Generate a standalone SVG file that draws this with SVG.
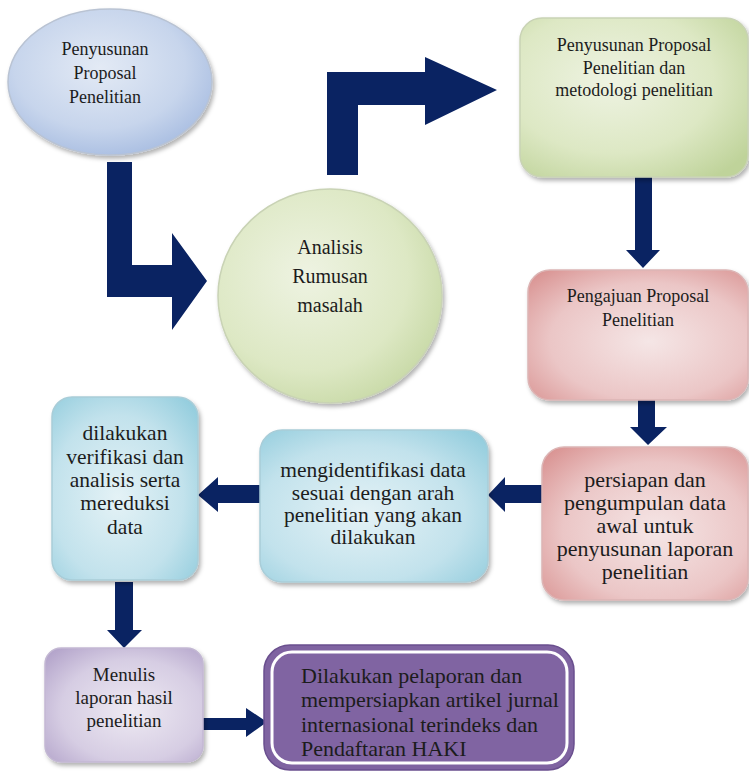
<svg xmlns="http://www.w3.org/2000/svg" width="749" height="773" viewBox="0 0 749 773">
<defs>
  <style>
    text { font-family: 'Liberation Serif', 'Times New Roman', serif; fill: #1c1c1c; }
    .c { text-anchor: middle; }
    .arrow { fill: #0a2362; }
  </style>
  <filter id="sh" x="-10%" y="-10%" width="125%" height="125%">
    <feDropShadow dx="2" dy="3" stdDeviation="2" flood-color="#000" flood-opacity="0.3"/>
  </filter>
  <radialGradient id="gBlue" cx="45%" cy="40%" r="70%">
    <stop offset="0" stop-color="#e3eaf5"/>
    <stop offset="0.6" stop-color="#c7d5ec"/>
    <stop offset="1" stop-color="#9fb6de"/>
  </radialGradient>
  <radialGradient id="gGreen" cx="40%" cy="40%" r="75%">
    <stop offset="0" stop-color="#eef3e2"/>
    <stop offset="0.6" stop-color="#dde8c4"/>
    <stop offset="1" stop-color="#bfd39a"/>
  </radialGradient>
  <radialGradient id="gPink" cx="55%" cy="55%" r="75%">
    <stop offset="0" stop-color="#f5e6e6"/>
    <stop offset="0.6" stop-color="#ebc6c6"/>
    <stop offset="1" stop-color="#d8908f"/>
  </radialGradient>
  <radialGradient id="gAqua" cx="45%" cy="55%" r="75%">
    <stop offset="0" stop-color="#e4f2f6"/>
    <stop offset="0.6" stop-color="#c2e2ec"/>
    <stop offset="1" stop-color="#8fcbdc"/>
  </radialGradient>
  <radialGradient id="gLav" cx="55%" cy="55%" r="75%">
    <stop offset="0" stop-color="#eeeaf3"/>
    <stop offset="0.6" stop-color="#d6cde3"/>
    <stop offset="1" stop-color="#b0a0c8"/>
  </radialGradient>
</defs>

<g id="connectors">
  <polygon class="arrow" points="107,162 132,162 132,265 172,265 172,233 207,281 172,330 172,297 107,297"/>
  <polygon class="arrow" points="327,175 358,175 358,105 425,105 425,125 497,90 425,57 425,72 327,72"/>
  <polygon class="arrow" points="635,177 652,177 652,250 660,250 643,268 626,250 635,250"/>
  <polygon class="arrow" points="638,400 655,400 655,427 667,427 648,445 630,427 638,427"/>
  <polygon class="arrow" points="542,485 542,503 505,503 505,512 488,495 505,477 505,485"/>
  <polygon class="arrow" points="260,485 260,503 218,503 218,512 198,495 218,477 218,485"/>
  <polygon class="arrow" points="115,582 133,582 133,630 142,630 124,648 107,630 115,630"/>
  <polygon class="arrow" points="203,718 246,718 246,708 267,722 246,737 246,730 203,730"/>
</g>

<g id="n1">
  <ellipse cx="110" cy="82" rx="102" ry="73" fill="url(#gBlue)" stroke="#b9c3d3" stroke-width="1.5" filter="url(#sh)"/>
  <text class="c" x="105" y="55" font-size="18">Penyusunan</text>
  <text class="c" x="105" y="79" font-size="18">Proposal</text>
  <text class="c" x="105" y="103" font-size="18">Penelitian</text>
</g>

<g id="n2">
  <ellipse cx="330" cy="296" rx="112" ry="107" fill="url(#gGreen)" stroke="#c9d3b5" stroke-width="1.5" filter="url(#sh)"/>
  <text class="c" x="330" y="254" font-size="20">Analisis</text>
  <text class="c" x="330" y="283" font-size="20">Rumusan</text>
  <text class="c" x="330" y="312" font-size="20">masalah</text>
</g>

<g id="n3">
  <rect x="520" y="18" width="228" height="159" rx="22" fill="url(#gGreen)" stroke="#c9d3b5" stroke-width="1.5" filter="url(#sh)"/>
  <text class="c" x="634" y="51" font-size="18">Penyusunan Proposal</text>
  <text class="c" x="634" y="74" font-size="18">Penelitian dan</text>
  <text class="c" x="634" y="96" font-size="18">metodologi penelitian</text>
</g>

<g id="n4">
  <rect x="528" y="270" width="220" height="130" rx="22" fill="url(#gPink)" stroke="#dcb5b5" stroke-width="1.5" filter="url(#sh)"/>
  <text class="c" x="638" y="302" font-size="18">Pengajuan Proposal</text>
  <text class="c" x="638" y="326" font-size="18">Penelitian</text>
</g>

<g id="n5">
  <rect x="542" y="447" width="206" height="153" rx="22" fill="url(#gPink)" stroke="#dcb5b5" stroke-width="1.5" filter="url(#sh)"/>
  <text class="c" x="645" y="487" font-size="22">persiapan dan</text>
  <text class="c" x="645" y="510" font-size="22">pengumpulan data</text>
  <text class="c" x="645" y="533" font-size="22">awal untuk</text>
  <text class="c" x="645" y="556" font-size="22">penyusunan laporan</text>
  <text class="c" x="645" y="579" font-size="22">penelitian</text>
</g>

<g id="n6">
  <rect x="260" y="430" width="228" height="152" rx="22" fill="url(#gAqua)" stroke="#a9cdd8" stroke-width="1.5" filter="url(#sh)"/>
  <text class="c" x="373" y="477" font-size="21.5">mengidentifikasi data</text>
  <text class="c" x="373" y="500" font-size="21.5">sesuai dengan arah</text>
  <text class="c" x="373" y="522" font-size="21.5">penelitian yang akan</text>
  <text class="c" x="373" y="544" font-size="21.5">dilakukan</text>
</g>

<g id="n7">
  <rect x="52" y="397" width="146" height="183" rx="20" fill="url(#gAqua)" stroke="#a9cdd8" stroke-width="1.5" filter="url(#sh)"/>
  <text class="c" x="125" y="440" font-size="21.5">dilakukan</text>
  <text class="c" x="125" y="464" font-size="21.5">verifikasi dan</text>
  <text class="c" x="125" y="487" font-size="21.5">analisis serta</text>
  <text class="c" x="125" y="510" font-size="21.5">mereduksi</text>
  <text class="c" x="125" y="534" font-size="21.5">data</text>
</g>

<g id="n8">
  <rect x="45" y="648" width="158" height="114" rx="16" fill="url(#gLav)" stroke="#c3b8d3" stroke-width="1.5" filter="url(#sh)"/>
  <text class="c" x="124" y="681" font-size="19">Menulis</text>
  <text class="c" x="124" y="704" font-size="19">laporan hasil</text>
  <text class="c" x="124" y="727" font-size="19">penelitian</text>
</g>

<g id="n9">
  <rect x="264" y="645" width="310" height="125" rx="26" fill="#7f63a1" stroke="#6a4f8e" stroke-width="1.5"/>
  <rect x="272" y="652" width="295" height="111" rx="20" fill="#8064a2" stroke="#ffffff" stroke-width="3"/>
  <text x="301" y="683" font-size="22">Dilakukan pelaporan dan</text>
  <text x="301" y="707" font-size="22">mempersiapkan artikel jurnal</text>
  <text x="301" y="732" font-size="22">internasional terindeks dan</text>
  <text x="301" y="756" font-size="22">Pendaftaran HAKI</text>
</g>
</svg>
